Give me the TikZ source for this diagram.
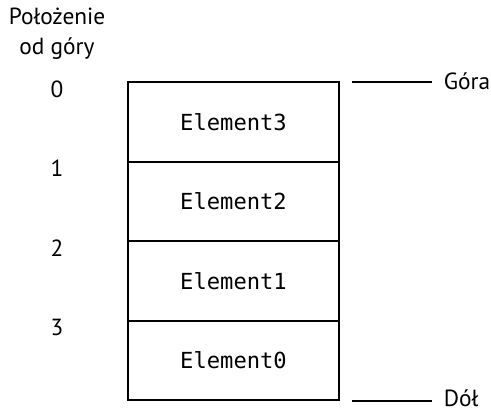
\documentclass[tikz,border=0pt]{standalone}
\usepackage{fontspec}
\setmainfont{PT Sans}
\setmonofont{DejaVu Sans Mono}

\tikzset{every picture/.style={line width=1.4pt}}
\tikzset{
  cellbox/.style={draw, minimum width=158.25pt, minimum height=59.6pt, inner sep=0pt, font=\fontsize{16.6}{18}\selectfont\ttfamily},
  poslabel/.style={font=\fontsize{17.5}{21}\selectfont, anchor=base, inner sep=0pt},
  endlabel/.style={font=\fontsize{17.5}{21}\selectfont, anchor=base west, inner xsep=8.25pt, inner ysep=0pt},
}

\begin{document}
\begin{tikzpicture}[x=0.75pt,y=0.75pt,yscale=-1,xscale=1]
\useasboundingbox (0,0) rectangle (491,411);

%Shape: Stack cells
\node [cellbox] (el3) at (233.5,122) {Element3};
\node [cellbox] (el2) at (233.5,201.5) {Element2};
\node [cellbox] (el1) at (233.5,281) {Element1};
\node [cellbox] (el0) at (233.5,360.5) {Element0};

% Text Node
\node [poslabel, align=center, anchor=north] (tytul) at (57,7) {Położenie\\[1.5pt]od góry};
% Text Node
\node [poslabel] (poz0) at (57,97) {0};
% Text Node
\node [poslabel] (poz1) at (57,176.5) {1};
% Text Node
\node [poslabel] (poz2) at (57,256) {2};
% Text Node
\node [poslabel] (poz3) at (57,335.5) {3};

% Text Node
\node [endlabel] (gora) at (432,89) {Góra};
% Text Node
\node [endlabel] (dol) at (432,406) {Dół};

%Straight Lines
\coordinate (gtop) at (352,82);
\coordinate (gbot) at (352,401);
\draw (gtop) -- (gtop -| gora.west);
\draw (gbot) -- (gbot -| dol.west);

\end{tikzpicture}
\end{document}
